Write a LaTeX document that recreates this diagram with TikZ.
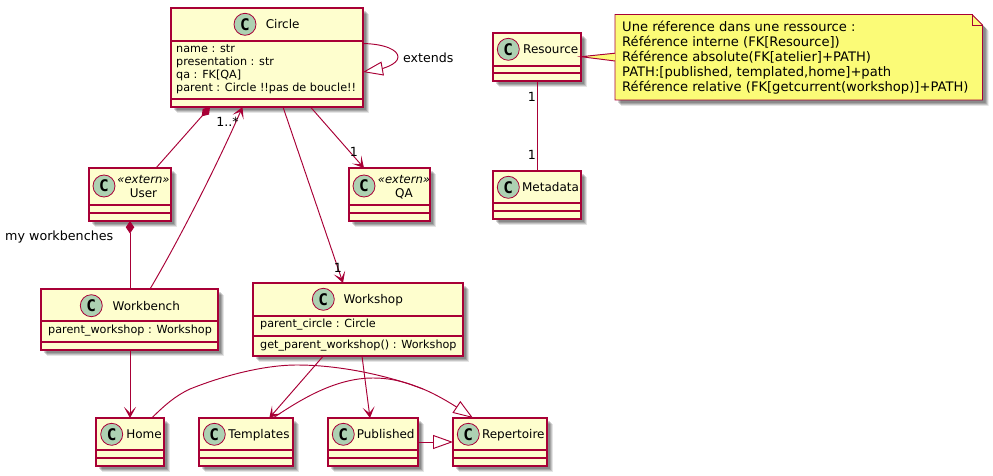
\documentclass[tikz,border=0pt]{standalone}
\usepackage{fontspec}
\setmainfont{DejaVu Sans}
\newfontfamily\spotfont{DejaVu Sans Mono}
\usetikzlibrary{arrows.meta,shadows,calc}
\definecolor{umlred}{HTML}{A80036}
\definecolor{umlfill}{HTML}{FEFECE}
\definecolor{umlspot}{HTML}{ADD1B2}
\definecolor{umlnote}{HTML}{FBFB77}
\tikzset{
  softshadow/.style={
    general shadow={shadow xshift=6pt,shadow yshift=-6pt,fill=black,opacity=.10},
    general shadow={shadow xshift=5pt,shadow yshift=-5pt,fill=black,opacity=.14},
    general shadow={shadow xshift=4pt,shadow yshift=-4pt,fill=black,opacity=.16},
    general shadow={shadow xshift=3pt,shadow yshift=-3pt,fill=black,opacity=.16}},
  classbox/.style={draw=umlred,fill=umlfill,line width=1.6pt,inner sep=0,outer sep=0,anchor=north west,softshadow},
  seprule/.style={draw=umlred,line width=1.6pt},
  spotnode/.style={circle,draw=umlred,fill=umlspot,line width=.8pt,minimum size=22pt,inner sep=0,font=\spotfont\bfseries\fontsize{16}{16}\selectfont},
  titlenode/.style={inner sep=0,anchor=base,font=\fontsize{12}{12}\selectfont},
  stereonode/.style={inner sep=0,anchor=base,font=\itshape\fontsize{11.6}{12}\selectfont},
  memberlist/.style={inner sep=0,anchor=north west,align=left,font=\fontsize{11.2}{13}\selectfont},
  linklabel/.style={inner sep=0,font=\fontsize{12.6}{13}\selectfont},
  link/.style={draw=umlred,line width=.95pt},
  openhead/.style={link,-{Stealth[length=11pt,width=12pt,inset=6pt]}},
  inherit/.style={link,-{Triangle[length=20pt,width=14pt,fill=white]}},
  compose/.style={link,{Diamond[length=12.5pt,width=8.5pt]}-},
}
\newcommand{\cls}[5]{\node[classbox,minimum width=#4pt,minimum height=#5pt] (#1) at (#2,#3) {};}
\newcommand{\sepat}[2]{\draw[seprule] ([yshift=-#2pt]#1.north west) -- ([yshift=-#2pt]#1.north east);}
\newcommand{\head}[5]{%
  \node[spotnode] (#1spot) at (#2,#3) {C};
  \node[titlenode] (#1title) at (#4,#3+4.4) {#5};}
\newcommand{\stereohead}[4]{%
  \node[spotnode] (#1spot) at (#2,186) {C};
  \node[stereonode] (#1stereo) at (#3,183) {«extern»};
  \node[titlenode] (#1title) at (#3,197) {#4};}
\begin{document}
\begin{tikzpicture}[x=1pt,y=-1pt]
\useasboundingbox (0,0) rectangle (993,476);

% classes
\cls{circleC}{171}{8}{192}{99}
\sepat{circleC}{33}\sepat{circleC}{91}
\head{circleC}{245}{24.3}{282.7}{Circle}
\node[memberlist] (circleM) at (176,44) {name : str\\presentation : str\\qa : FK[QA]\\parent : Circle !!pas de boucle!!};

\cls{userC}{89}{168}{82}{53}
\sepat{userC}{37}\sepat{userC}{45}
\stereohead{userC}{104}{143.5}{User}

\cls{qaC}{349}{168}{81}{53}
\sepat{qaC}{37}\sepat{qaC}{45}
\stereohead{qaC}{364}{404}{QA}

\cls{workbenchC}{41}{289}{177}{61}
\sepat{workbenchC}{32}\sepat{workbenchC}{53}
\head{workbenchC}{91.3}{305.7}{146.3}{Workbench}
\node[memberlist] (workbenchM) at (48,325) {parent\_workshop : Workshop};

\cls{workshopC}{253}{283}{210}{73}
\sepat{workshopC}{33}\sepat{workshopC}{53}
\head{workshopC}{323.3}{299.3}{373.3}{Workshop}
\node[memberlist] (workshopM) at (260,319) {parent\_circle : Circle};
\node[memberlist] (workshopO) at (260,340) {get\_parent\_workshop() : Workshop};

\cls{homeC}{96}{418}{68}{48}
\sepat{homeC}{32}\sepat{homeC}{40}
\head{homeC}{111.7}{434.3}{144}{Home}

\cls{templatesC}{199}{418}{94}{48}
\sepat{templatesC}{32}\sepat{templatesC}{40}
\head{templatesC}{214.3}{434.3}{259}{Templates}

\cls{publishedC}{328}{418}{90}{48}
\sepat{publishedC}{32}\sepat{publishedC}{40}
\head{publishedC}{343.3}{434.3}{385.7}{Published}

\cls{repertoireC}{453}{418}{94}{48}
\sepat{repertoireC}{32}\sepat{repertoireC}{40}
\head{repertoireC}{468.3}{434.3}{513.3}{Repertoire}

\cls{resourceC}{493}{33}{88}{48}
\sepat{resourceC}{33}\sepat{resourceC}{40}
\head{resourceC}{508.3}{49.3}{550.7}{Resource}

\cls{metadataC}{493}{171}{88}{48}
\sepat{metadataC}{32}\sepat{metadataC}{40}
\head{metadataC}{508.3}{187.3}{550.5}{Metadata}

% note
\path[draw=umlred,fill=umlnote,line width=.95pt,softshadow] (615,14.5) -- (972,14.5) -- (982.5,25) -- (982.5,100) -- (615,100) -- cycle;
\draw[umlred,line width=.95pt] (972,14.5) -- (972,25) -- (982.5,25);
\node[inner sep=0,anchor=north west,align=left,font=\fontsize{13.1}{15}\selectfont] (noteT) at (622,20.5) {Une réference dans une ressource :\\Référence interne (FK[Resource])\\Référence absolute(FK[atelier]+PATH)\\PATH:[published, templated,home]+path\\Référence relative (FK[getcurrent(workshop)]+PATH)};
\coordinate (noteAnchor) at (615,57);
\fill[umlnote] ([yshift=3.8pt]noteAnchor) -- ([yshift=.3pt]resourceC.east) -- ([yshift=-4pt]noteAnchor) -- cycle;
\draw[link] ([yshift=3.8pt]noteAnchor) -- ([yshift=.3pt]resourceC.east) -- ([yshift=-4pt]noteAnchor);

% connectors
\draw[compose] ([xshift=-57pt]circleC.south) -- ([xshift=26pt]userC.north);
\draw[openhead] ([xshift=20.5pt]workbenchC.north) .. controls (175,247) and (215,170) .. ([xshift=-24.5pt]circleC.south);
\draw[openhead] ([xshift=16pt]circleC.south) -- ([xshift=-15pt]workshopC.north);
\draw[openhead] ([xshift=43.5pt]circleC.south) -- ([xshift=-25.5pt]qaC.north);
\draw[inherit] ([yshift=14pt]circleC.east) .. controls (385,44) and (398,50) .. (398,57) .. controls (398,65) and (380,69) .. ([yshift=-14.5pt]circleC.east);
\draw[compose] (userC.south) -- ([xshift=.5pt]workbenchC.north);
\draw[openhead] ([xshift=.5pt]workbenchC.south) -- (homeC.north);
\draw[openhead] ([xshift=-34.7pt]workshopC.south) -- ([xshift=23.3pt]templatesC.north);
\draw[openhead] ([xshift=4pt]workshopC.south) -- ([xshift=-3pt]publishedC.north);
\draw[inherit] ([xshift=21.7pt]homeC.north) .. controls (165,405) and (175,396) .. (190,389) .. controls (225,375) and (265,365) .. (297,365) .. controls (345,365) and (395,378) .. (423,389) .. controls (440,396) and (458,408) .. ([xshift=-27pt]repertoireC.north);
\draw[link] ([xshift=27pt]templatesC.north) .. controls (300,400) and (335,378) .. (373,378) .. controls (395,378) and (410,384) .. (423,389);
\draw[inherit] (publishedC.east) -- (repertoireC.west);
\draw[link] (resourceC.south) -- (metadataC.north);

% labels
\node[linklabel] (lblMany) at (227.5,122) {1..*};
\node[linklabel] (lblWs) at (338,268) {1};
\node[linklabel] (lblQa) at (354,152) {1};
\node[linklabel,anchor=west] (lblExt) at (403,58) {extends};
\node[linklabel,anchor=west,font=\fontsize{12.7}{14}\selectfont] (lblMy) at (5,237) {my workbenches};
\node[linklabel] (lblR1) at (532,97) {1};
\node[linklabel] (lblR2) at (532,155) {1};
\end{tikzpicture}
\end{document}
